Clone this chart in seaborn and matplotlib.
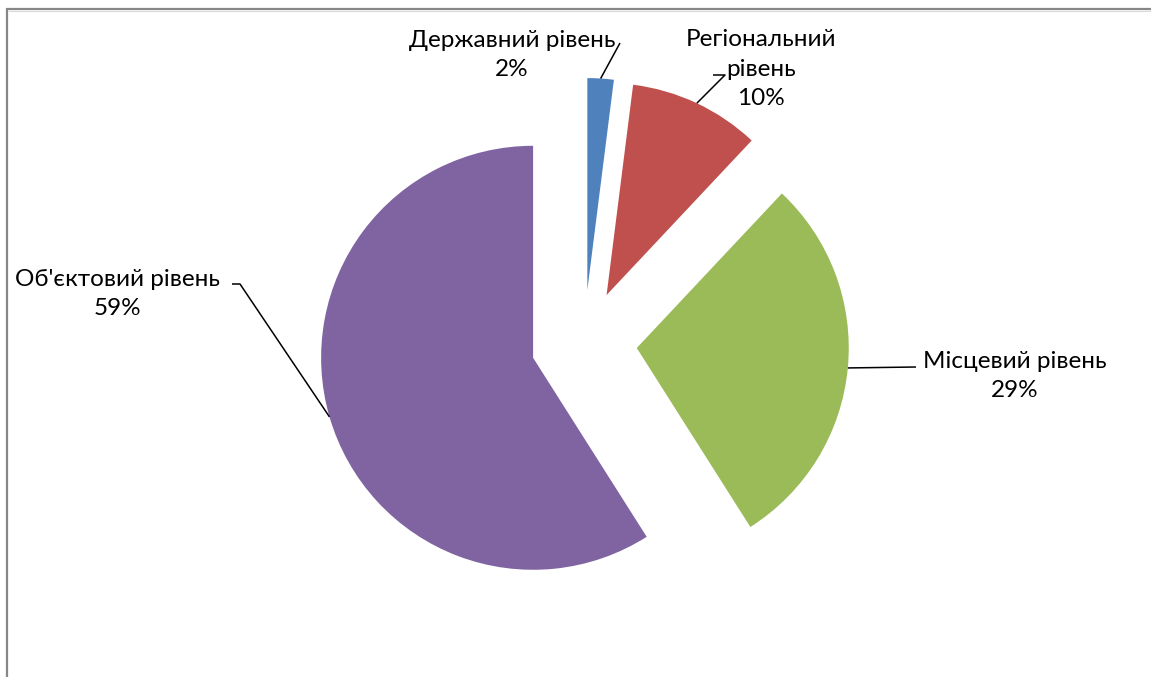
import numpy as np
import matplotlib
matplotlib.use("Agg")
import matplotlib.pyplot as plt
from matplotlib.lines import Line2D
import seaborn as sns

# data
categories = ["Державний рівень", "Регіональний\nрівень", "Місцевий рівень", "Об'єктовий рівень"]
shares = [2, 10, 29, 59]
colors = ["#4F81BD", "#C0504D", "#9BBB59", "#8064A2"]

sns.set_theme(style="white")
plt.rcParams["font.family"] = ["Lato", "DejaVu Sans"]

W, H = 1151, 677
R = 212.0          # pie radius in pixels
CX, CY = 584, 343  # pie centre in pixels (from top-left)


def px(x, y):
    # pixel position (top-left origin) -> data units of the pie axes
    return (x - CX) / R, (CY - y) / R


fig = plt.figure(figsize=(W / 100, H / 100), dpi=100)
ax = fig.add_axes([0, 0, 1, 1])

wedges, _ = ax.pie(shares, colors=colors, startangle=90, counterclock=False,
                   explode=[0.25] * len(shares), radius=1.0,
                   wedgeprops=dict(linewidth=0))

ax.set_xlim(-CX / R, (W - CX) / R)
ax.set_ylim(-(H - CY) / R, CY / R)
ax.set_aspect("equal")
ax.axis("off")

# label text positions and leader elbows (pixels)
label_pos = [(512, 55), (761, 69), (1015, 376), (117, 294)]
elbows = [[(620, 43)], [(725, 75), (713, 75)], [(916, 367)], [(240, 284), (232, 284)]]

for w, cat, val, lp, el in zip(wedges, categories, shares, label_pos, elbows):
    mid = np.deg2rad((w.theta1 + w.theta2) / 2)
    ax0 = w.center[0] + w.r * np.cos(mid)
    ay0 = w.center[1] + w.r * np.sin(mid)
    pts = [px(*p) for p in el]
    xs = [p[0] for p in reversed(pts)] + [ax0]
    ys = [p[1] for p in reversed(pts)] + [ay0]
    ax.plot(xs, ys, color="black", lw=1.1, solid_capstyle="butt")
    tx, ty = px(*lp)
    ax.text(tx, ty, f"{cat}\n{val}%", ha="center", va="center",
            multialignment="center", fontsize=17.5, linespacing=1.5, color="black")

# outer chart frame (only top and left edges fall inside the image)
top = 1 - 8.5 / H
left = 6.5 / W
fig.add_artist(Line2D([left, 1.01], [top, top], transform=fig.transFigure,
                      color="#868686", lw=1.6))
fig.add_artist(Line2D([left, left], [-0.01, top], transform=fig.transFigure,
                      color="#868686", lw=1.6))
fig.add_artist(Line2D([left + 2 / W, 1.01], [top - 2 / H, top - 2 / H],
                      transform=fig.transFigure, color="#D9D9D9", lw=0.8))

fig.savefig("out.png", dpi=100)
